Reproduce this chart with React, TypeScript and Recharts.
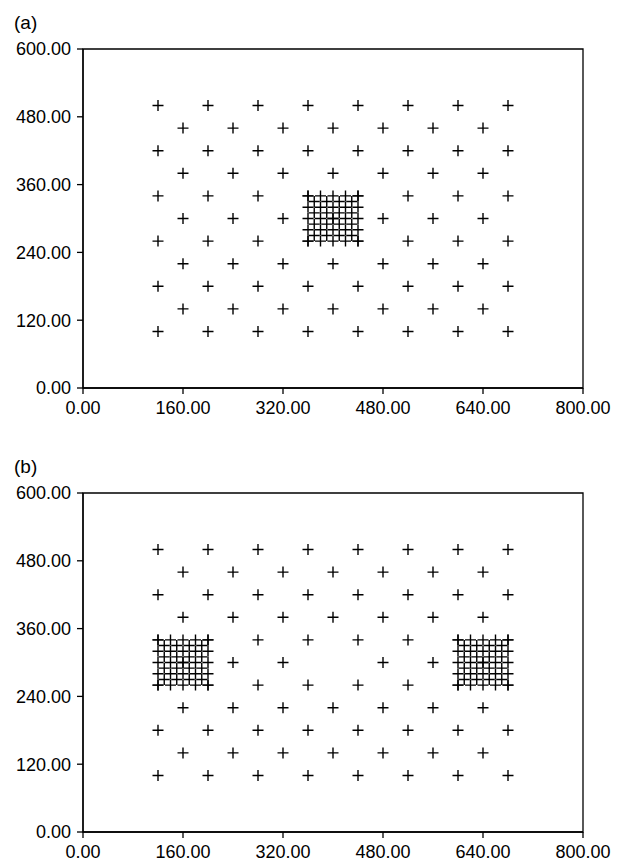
import React from 'react';
import {
  ScatterChart,
  Scatter,
  XAxis,
  YAxis,
  ReferenceArea,
} from 'recharts';

interface Pt {
  x: number;
  y: number;
}

// coarse staggered lattice (both panels)
const wideRowX = [120, 200, 280, 360, 440, 520, 600, 680];
const wideRowY = [100, 180, 260, 340, 420, 500];
const narrowRowX = [160, 240, 320, 400, 480, 560, 640];
const narrowRowY = [140, 220, 300, 380, 460];

// refined clusters
const clusterEvenRowY = [260, 280, 300, 320, 340];
const clusterOddRowY = [270, 290, 310, 330];
const clusterAEvenX = [360, 380, 400, 420, 440];
const clusterAOddX = [370, 390, 410, 430];
const clusterBLeftEvenX = [120, 140, 160, 180, 200];
const clusterBLeftOddX = [130, 150, 170, 190];
const clusterBRightEvenX = [600, 620, 640, 660, 680];
const clusterBRightOddX = [610, 630, 650, 670];

// point dropped from the coarse lattice in panel (b)
const removedInB: Pt[] = [{ x: 400, y: 300 }];

const xTicks = [0, 160, 320, 480, 640, 800];
const yTicks = [0, 120, 240, 360, 480, 600];

const grid = (xs: number[], ys: number[]): Pt[] =>
  ys.flatMap((y) => xs.map((x) => ({ x, y })));

const coarse = [...grid(wideRowX, wideRowY), ...grid(narrowRowX, narrowRowY)];

const panelA: Pt[] = [
  ...coarse,
  ...grid(clusterAEvenX, clusterEvenRowY),
  ...grid(clusterAOddX, clusterOddRowY),
];

const panelB: Pt[] = [
  ...coarse.filter((p) => !removedInB.some((r) => r.x === p.x && r.y === p.y)),
  ...grid(clusterBLeftEvenX, clusterEvenRowY),
  ...grid(clusterBLeftOddX, clusterOddRowY),
  ...grid(clusterBRightEvenX, clusterEvenRowY),
  ...grid(clusterBRightOddX, clusterOddRowY),
];

const font = '"Liberation Sans", Arial, sans-serif';
const tickStyle = { fontSize: 18, fill: '#000', fontFamily: font };

// plus-sign marker
const Cross = (props: any) => {
  const { cx, cy } = props;
  const r = 5.5;
  return (
    <path
      d={`M${cx - r},${cy}H${cx + r}M${cx},${cy - r}V${cy + r}`}
      stroke="#000"
      strokeWidth={1.4}
      fill="none"
    />
  );
};

const Panel = ({ data, label, top }: { data: Pt[]; label: string; top: number }) => (
  <div style={{ position: 'absolute', left: 0, top, width: 623, height: 420 }}>
    <div
      style={{
        position: 'absolute',
        left: 14,
        top: 13,
        fontFamily: font,
        fontSize: 19,
        lineHeight: 1,
        color: '#000',
      }}
    >
      {label}
    </div>
    <ScatterChart
      width={623}
      height={420}
      margin={{ top: 49, right: 40, bottom: 2, left: 0 }}
    >
      <XAxis
        type="number"
        dataKey="x"
        domain={[0, 800]}
        ticks={xTicks}
        tickFormatter={(v: number) => v.toFixed(2)}
        tick={tickStyle}
        tickSize={6}
        tickMargin={7}
        height={30}
        stroke="#000"
        strokeWidth={1.3}
        interval={0}
      />
      <YAxis
        type="number"
        dataKey="y"
        domain={[0, 600]}
        ticks={yTicks}
        tickFormatter={(v: number) => v.toFixed(2)}
        tick={tickStyle}
        tickSize={6}
        tickMargin={6}
        width={83}
        stroke="#000"
        strokeWidth={1.3}
        interval={0}
      />
      <ReferenceArea
        x1={0}
        x2={800}
        y1={0}
        y2={600}
        fill="none"
        stroke="#000"
        strokeWidth={1.3}
      />
      <Scatter data={data} shape={<Cross />} isAnimationActive={false} />
    </ScatterChart>
  </div>
);

export default function App() {
  return (
    <div style={{ position: 'absolute', left: 0, top: 0, width: 623, height: 864, background: '#fff' }}>
      <Panel data={panelA} label="(a)" top={0} />
      <Panel data={panelB} label="(b)" top={444} />
    </div>
  );
}
